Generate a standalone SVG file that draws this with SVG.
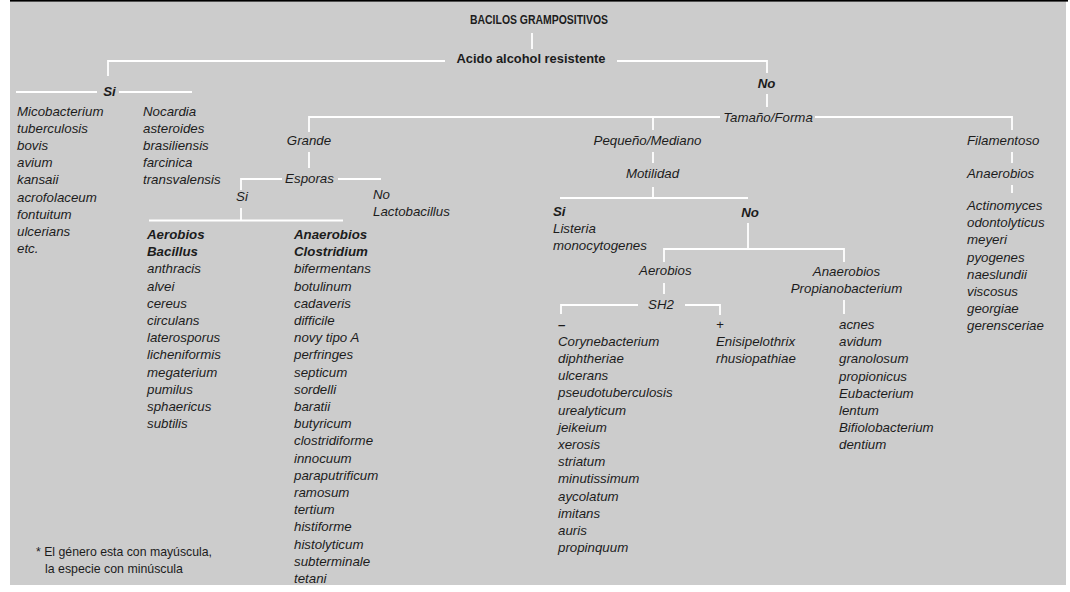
<svg xmlns="http://www.w3.org/2000/svg" width="1070" height="592" viewBox="0 0 1070 592">
<style>
.t{font-family:"Liberation Sans",Arial,sans-serif;font-size:13.3px;fill:#1c1c1c;font-style:italic}
.b{font-weight:bold}
.n{font-style:normal}
.m{text-anchor:middle}
.c path{stroke:#ffffff;stroke-width:1.8;fill:none}
</style>
<rect x="0" y="0" width="1070" height="592" fill="#ffffff"/>
<rect x="10" y="1" width="1056" height="584" fill="#cccccc"/>
<rect x="10" y="0" width="1058" height="1.6" fill="#000000"/>
<g class="c" id="connectors">
<path d="M532 33V49"/>
<path d="M445 61H108V76"/>
<path d="M617 61H767V73"/>
<path d="M767 94V107"/>
<path d="M16 92H97M119 92H192"/>
<path d="M720 117H309V132"/>
<path d="M653 117V130"/>
<path d="M815 117H1012V130"/>
<path d="M309 152V168"/>
<path d="M282 179H241V190"/>
<path d="M338 179H381"/>
<path d="M241 208V220.5M149 220.5H343"/>
<path d="M653 152V163M653 187V198M560 198H748"/>
<path d="M748 223V249M664 262V249H844V262"/>
<path d="M664 283V294"/>
<path d="M638 305H561V314M685 305H720V315"/>
<path d="M844 300V314"/>
<path d="M1012 152V163M1012 185V193"/>
</g>
<g id="title"><text class="t b n m" x="539" y="24" font-size="12.5" textLength="138" lengthAdjust="spacingAndGlyphs">BACILOS GRAMPOSITIVOS</text></g>
<g id="acido"><text class="t b n m" x="531" y="63.3" font-size="15" textLength="149" lengthAdjust="spacingAndGlyphs">Acido alcohol resistente</text></g>
<g id="si1"><text class="t b m" x="109.5" y="95.7" font-size="14">Si</text></g>
<g id="mico"><text class="t" x="17" y="115.5">Micobacterium<tspan x="17" dy="17.2">tuberculosis</tspan><tspan x="17" dy="17.2">bovis</tspan><tspan x="17" dy="17.2">avium</tspan><tspan x="17" dy="17.2">kansaii</tspan><tspan x="17" dy="17.2">acrofolaceum</tspan><tspan x="17" dy="17.2">fontuitum</tspan><tspan x="17" dy="17.2">ulcerians</tspan><tspan x="17" dy="17.2">etc.</tspan></text></g>
<g id="nocardia"><text class="t" x="143" y="115.5">Nocardia<tspan x="143" dy="17.2">asteroides</tspan><tspan x="143" dy="17.2">brasiliensis</tspan><tspan x="143" dy="17.2">farcinica</tspan><tspan x="143" dy="17.2">transvalensis</tspan></text></g>
<g id="no1"><text class="t b m" x="766.5" y="88" font-size="14">No</text></g>
<g id="tamano"><text class="t m" x="768" y="121.5">Tamaño/Forma</text></g>
<g id="grande"><text class="t m" x="309" y="145">Grande</text></g>
<g id="esporas"><text class="t m" x="309.5" y="183.3">Esporas</text></g>
<g id="si2"><text class="t m" x="242" y="201">Si</text></g>
<g id="no2"><text class="t" x="373" y="198.5">No<tspan x="373" dy="17">Lactobacillus</tspan></text></g>
<g id="bacillus"><text class="t" x="147" y="239"><tspan class="b">Aerobios</tspan><tspan class="b" x="147" dy="17.2">Bacillus</tspan><tspan x="147" dy="17.2">anthracis</tspan><tspan x="147" dy="17.2">alvei</tspan><tspan x="147" dy="17.2">cereus</tspan><tspan x="147" dy="17.2">circulans</tspan><tspan x="147" dy="17.2">laterosporus</tspan><tspan x="147" dy="17.2">licheniformis</tspan><tspan x="147" dy="17.2">megaterium</tspan><tspan x="147" dy="17.2">pumilus</tspan><tspan x="147" dy="17.2">sphaericus</tspan><tspan x="147" dy="17.2">subtilis</tspan></text></g>
<g id="clostridium"><text class="t" x="294" y="239"><tspan class="b">Anaerobios</tspan><tspan class="b" x="294" dy="17.2">Clostridium</tspan><tspan x="294" dy="17.2">bifermentans</tspan><tspan x="294" dy="17.2">botulinum</tspan><tspan x="294" dy="17.2">cadaveris</tspan><tspan x="294" dy="17.2">difficile</tspan><tspan x="294" dy="17.2">novy tipo A</tspan><tspan x="294" dy="17.2">perfringes</tspan><tspan x="294" dy="17.2">septicum</tspan><tspan x="294" dy="17.2">sordelli</tspan><tspan x="294" dy="17.2">baratii</tspan><tspan x="294" dy="17.2">butyricum</tspan><tspan x="294" dy="17.2">clostridiforme</tspan><tspan x="294" dy="17.2">innocuum</tspan><tspan x="294" dy="17.2">paraputrificum</tspan><tspan x="294" dy="17.2">ramosum</tspan><tspan x="294" dy="17.2">tertium</tspan><tspan x="294" dy="17.2">histiforme</tspan><tspan x="294" dy="17.2">histolyticum</tspan><tspan x="294" dy="17.2">subterminale</tspan><tspan x="294" dy="17.2">tetani</tspan></text></g>
<g id="pequeno"><text class="t m" x="647.5" y="145">Pequeño/Mediano</text></g>
<g id="motilidad"><text class="t m" x="652.5" y="178">Motilidad</text></g>
<g id="listeria"><text class="t" x="553" y="216"><tspan class="b">Si</tspan><tspan x="553" dy="17.2">Listeria</tspan><tspan x="553" dy="17.2">monocytogenes</tspan></text></g>
<g id="no3"><text class="t b m" x="750" y="217" font-size="14">No</text></g>
<g id="aerobios2"><text class="t m" x="665.3" y="275">Aerobios</text></g>
<g id="sh2"><text class="t m" x="661" y="308.5">SH2</text></g>
<g id="corynebacterium"><text class="t" x="558" y="328.5"><tspan class="b">–</tspan><tspan x="558" dy="17.2">Corynebacterium</tspan><tspan x="558" dy="17.2">diphtheriae</tspan><tspan x="558" dy="17.2">ulcerans</tspan><tspan x="558" dy="17.2">pseudotuberculosis</tspan><tspan x="558" dy="17.2">urealyticum</tspan><tspan x="558" dy="17.2">jeikeium</tspan><tspan x="558" dy="17.2">xerosis</tspan><tspan x="558" dy="17.2">striatum</tspan><tspan x="558" dy="17.2">minutissimum</tspan><tspan x="558" dy="17.2">aycolatum</tspan><tspan x="558" dy="17.2">imitans</tspan><tspan x="558" dy="17.2">auris</tspan><tspan x="558" dy="17.2">propinquum</tspan></text></g>
<g id="enisipelothrix"><text class="t" x="716" y="328.5">+<tspan x="716" dy="17.2">Enisipelothrix</tspan><tspan x="716" dy="17.2">rhusiopathiae</tspan></text></g>
<g id="anaerobios2"><text class="t m" x="846.5" y="276">Anaerobios<tspan x="846.5" dy="17.2">Propianobacterium</tspan></text></g>
<g id="propiono"><text class="t" x="839" y="329">acnes<tspan x="839" dy="17.2">avidum</tspan><tspan x="839" dy="17.2">granolosum</tspan><tspan x="839" dy="17.2">propionicus</tspan><tspan x="839" dy="17.2">Eubacterium</tspan><tspan x="839" dy="17.2">lentum</tspan><tspan x="839" dy="17.2">Bifiolobacterium</tspan><tspan x="839" dy="17.2">dentium</tspan></text></g>
<g id="filamentoso"><text class="t" x="967" y="145">Filamentoso</text></g>
<g id="anaerobios3"><text class="t" x="967" y="177.5">Anaerobios</text></g>
<g id="actinomyces"><text class="t" x="967" y="210">Actinomyces<tspan x="967" dy="17.2">odontolyticus</tspan><tspan x="967" dy="17.2">meyeri</tspan><tspan x="967" dy="17.2">pyogenes</tspan><tspan x="967" dy="17.2">naeslundii</tspan><tspan x="967" dy="17.2">viscosus</tspan><tspan x="967" dy="17.2">georgiae</tspan><tspan x="967" dy="17.2">gerensceriae</tspan></text></g>
<g id="footnote"><text class="t n" x="36" y="555.7" font-size="12.5" textLength="176" lengthAdjust="spacingAndGlyphs">* El género esta con mayúscula,</text><text class="t n" x="45" y="572.7" font-size="12.5" textLength="138" lengthAdjust="spacingAndGlyphs">la especie con minúscula</text></g>
</svg>
